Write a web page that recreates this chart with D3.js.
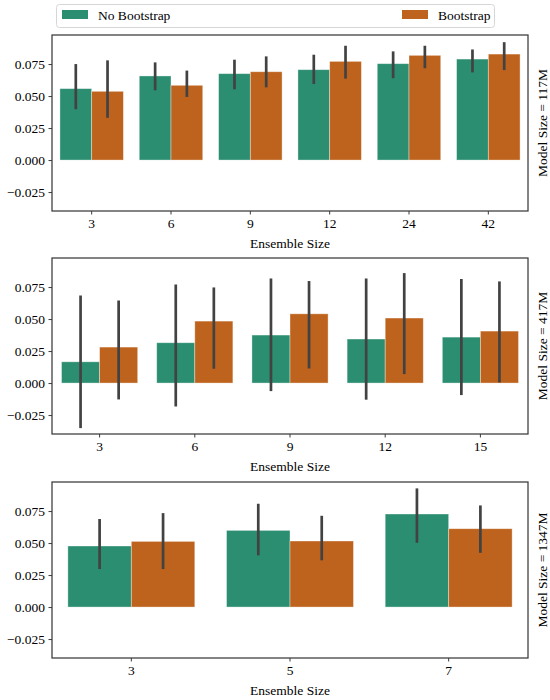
<!DOCTYPE html>
<html>
<head>
<meta charset="utf-8">
<script src="https://cdn.jsdelivr.net/npm/d3@7"></script>
<style>
  body { margin: 0; background: #fff; }
  svg, svg text { font-family: "Liberation Serif", "DejaVu Serif", serif !important; }
</style>
</head>
<body>
<div id="chart"></div>
<script>
// ---- Data ----
const hues = ["No Bootstrap", "Bootstrap"];
const hueColors = ["#2b8e70", "#be631d"];
const yTicks = [-0.025, 0, 0.025, 0.05, 0.075];

const modelSizes = ["117M", "417M", "1347M"];

// Panel 1: Model Size = 117M
const ens117 = ["3", "6", "9", "12", "24", "42"];
const noBoot117 = [0.0558, 0.0657, 0.0675, 0.0706, 0.0753, 0.0789];
const noBoot117Lo = [0.0397, 0.0545, 0.0553, 0.0594, 0.0639, 0.0685];
const noBoot117Hi = [0.0750, 0.0763, 0.0784, 0.0823, 0.0849, 0.0864];
const boot117 = [0.0537, 0.0584, 0.0690, 0.0771, 0.0818, 0.0828];
const boot117Lo = [0.0330, 0.0493, 0.0568, 0.0636, 0.0717, 0.0703];
const boot117Hi = [0.0779, 0.0699, 0.0810, 0.0893, 0.0893, 0.0921];

// Panel 2: Model Size = 417M
const ens417 = ["3", "6", "9", "12", "15"];
const noBoot417 = [0.0166, 0.0315, 0.0375, 0.0344, 0.0359];
const noBoot417Lo = [-0.0352, -0.0183, -0.0063, -0.0130, -0.0094];
const noBoot417Hi = [0.0684, 0.0770, 0.0817, 0.0817, 0.0813];
const boot417 = [0.0281, 0.0484, 0.0541, 0.0508, 0.0406];
const boot417Lo = [-0.0128, 0.0112, 0.0114, 0.0070, 0.0005];
const boot417Hi = [0.0645, 0.0747, 0.0797, 0.0859, 0.0794];

// Panel 3: Model Size = 1347M
const ens1347 = ["3", "5", "7"];
const noBoot1347 = [0.0477, 0.0599, 0.0727];
const noBoot1347Lo = [0.0297, 0.0404, 0.0502];
const noBoot1347Hi = [0.0688, 0.0807, 0.0927];
const boot1347 = [0.0513, 0.0516, 0.0612];
const boot1347Lo = [0.0297, 0.0365, 0.0424];
const boot1347Hi = [0.0734, 0.0713, 0.0794];

const panels = [
  { size: modelSizes[0], cats: ens117,
    series: [[noBoot117, noBoot117Lo, noBoot117Hi], [boot117, boot117Lo, boot117Hi]] },
  { size: modelSizes[1], cats: ens417,
    series: [[noBoot417, noBoot417Lo, noBoot417Hi], [boot417, boot417Lo, boot417Hi]] },
  { size: modelSizes[2], cats: ens1347,
    series: [[noBoot1347, noBoot1347Lo, noBoot1347Hi], [boot1347, boot1347Lo, boot1347Hi]] }
];

// ---- Layout ----
const W = 550, H = 700;
const left = 52, right = 528;
const panelTops = [35, 258, 482];
const panelH = 176;
const yDomain = [-0.0398, 0.0977];
const fontSize = 13.5;
const serif = "'Liberation Serif', 'DejaVu Serif', serif";
const axisColor = "#3a3a3a";

const svg = d3.select("#chart").append("svg")
  .attr("width", W).attr("height", H)
  .style("font-family", serif);

panels.forEach((p, pi) => {
  const top = panelTops[pi], bottom = top + panelH;
  const x = d3.scaleBand().domain(p.cats).range([left, right]).paddingInner(0).paddingOuter(0);
  const inner = d3.scaleBand().domain(hues).range([0, x.bandwidth() * 0.8]);
  const y = d3.scaleLinear().domain(yDomain).range([bottom, top]);
  const g = svg.append("g");

  // bars
  p.series.forEach((s, si) => {
    const [vals] = s;
    g.selectAll(null).data(p.cats).enter().append("rect")
      .attr("x", d => x(d) + x.bandwidth() * 0.1 + inner(hues[si]))
      .attr("width", inner.bandwidth())
      .attr("y", (d, i) => y(Math.max(0, vals[i])))
      .attr("height", (d, i) => Math.abs(y(vals[i]) - y(0)))
      .attr("fill", hueColors[si])
      .attr("stroke", "rgba(255,255,255,0.45)")
      .attr("stroke-width", 0.8);
  });
  // error bars
  p.series.forEach((s, si) => {
    const [vals, lo, hi] = s;
    g.selectAll(null).data(p.cats).enter().append("line")
      .attr("x1", d => x(d) + x.bandwidth() * 0.1 + inner(hues[si]) + inner.bandwidth() / 2)
      .attr("x2", d => x(d) + x.bandwidth() * 0.1 + inner(hues[si]) + inner.bandwidth() / 2)
      .attr("y1", (d, i) => y(lo[i]))
      .attr("y2", (d, i) => y(hi[i]))
      .attr("stroke", "#424242")
      .attr("stroke-width", 2.7);
  });

  // frame
  g.append("rect")
    .attr("x", left).attr("y", top)
    .attr("width", right - left).attr("height", panelH)
    .attr("fill", "none").attr("stroke", axisColor).attr("stroke-width", 1.25);

  // y axis
  const yAxis = d3.axisLeft(y).tickValues(yTicks).tickSize(3.5).tickPadding(3.5)
    .tickFormat(d => d3.format(".3f")(d).replace("-", "\u2212"));
  const ya = g.append("g").attr("transform", `translate(${left},0)`).call(yAxis)
    .attr("font-family", null).style("font-family", serif);
  ya.select(".domain").remove();
  ya.selectAll(".tick line").attr("stroke", axisColor).attr("stroke-width", 1);
  ya.selectAll(".tick text").attr("font-size", fontSize).attr("fill", "#000")
    .style("font-family", serif);

  // x axis
  const xAxis = d3.axisBottom(x).tickSize(3.5).tickPadding(3.5);
  const xa = g.append("g").attr("transform", `translate(0,${bottom})`).call(xAxis)
    .attr("font-family", null).style("font-family", serif);
  xa.select(".domain").remove();
  xa.selectAll(".tick line").attr("stroke", axisColor).attr("stroke-width", 1);
  xa.selectAll(".tick text").attr("font-size", fontSize).attr("fill", "#000")
    .style("font-family", serif);

  // x label
  g.append("text")
    .attr("x", (left + right) / 2).attr("y", bottom + 37)
    .attr("text-anchor", "middle").attr("font-size", fontSize).attr("fill", "#000")
    .text("Ensemble Size");

  // margin title
  g.append("text")
    .attr("transform", `translate(547,${(top + bottom) / 2}) rotate(-90)`)
    .attr("text-anchor", "middle").attr("font-size", fontSize).attr("fill", "#000")
    .text(`Model Size = ${p.size}`);
});

// legend
const lg = svg.append("g");
lg.append("rect").attr("x", 56.5).attr("y", 4.5).attr("width", 438).attr("height", 23)
  .attr("rx", 3).attr("fill", "#fff").attr("stroke", "#d6d6d6").attr("stroke-width", 1);
const legendItems = [
  { label: hues[0], px: 62, tx: 98, color: hueColors[0] },
  { label: hues[1], px: 402, tx: 438, color: hueColors[1] }
];
legendItems.forEach(it => {
  lg.append("rect").attr("x", it.px).attr("y", 10).attr("width", 26).attr("height", 9)
    .attr("fill", it.color);
  lg.append("text").attr("x", it.tx).attr("y", 20).attr("font-size", fontSize)
    .attr("fill", "#000").text(it.label);
});
</script>
</body>
</html>
